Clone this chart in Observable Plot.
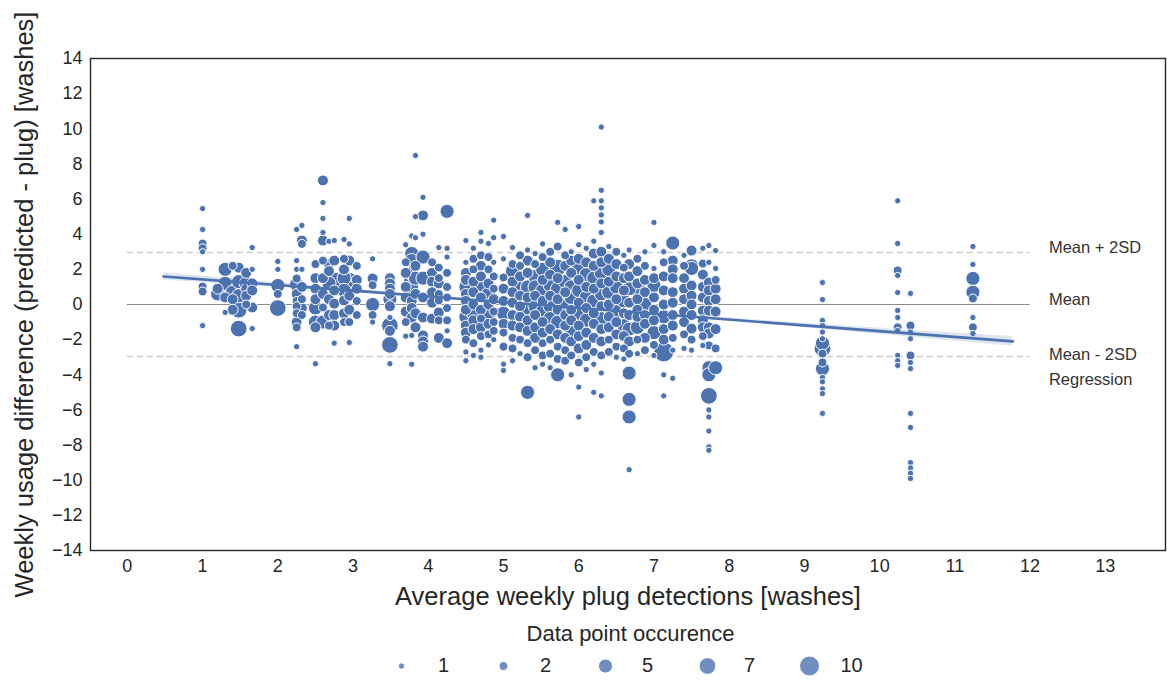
<!DOCTYPE html>
<html>
<head>
<meta charset="utf-8">
<script src="https://cdn.jsdelivr.net/npm/d3@7"></script>
<script src="https://cdn.jsdelivr.net/npm/@observablehq/plot@0.6"></script>
<style>
  html, body { margin: 0; padding: 0; background: #fff; }
  body { width: 1167px; height: 681px; overflow: hidden; font-family: "Liberation Sans", Arial, sans-serif; }
  #legend-title { height: 28px; line-height: 28px; text-align: center; font-size: 22px; color: #262626; margin-top: 8px; padding-left: 94px; }
</style>
</head>
<body>
<div id="chart"></div>
<div id="legend-title">Data point occurence</div>
<div id="legend"></div>
<script>
// x position of each column of points (average weekly plug detections)
const detections = [
  1.0, 1.2, 1.3, 1.4, 1.48, 1.58, 1.66, 2.0, 2.25, 2.32, 2.5, 2.6, 2.68, 2.75, 2.88, 2.95,
  3.05, 3.26, 3.49, 3.7, 3.78, 3.83, 3.93, 4.05, 4.14, 4.25,
  4.5, 4.6, 4.7, 4.8, 4.87, 5.0, 5.12, 5.22, 5.32, 5.42, 5.52, 5.62, 5.72, 5.82, 5.9,
  6.0, 6.1, 6.2, 6.3, 6.4, 6.5, 6.6, 6.67, 6.78, 6.88, 7.0, 7.13, 7.25, 7.4, 7.5, 7.65, 7.73, 7.82,
  9.24, 10.24, 10.41, 11.24
];
// weekly usage difference values per column
const differences = [
  [5.46, 4.27, 3.47, 3.2, 3.0, 2.0, 1.02, 0.74, -1.2],
  [0.9, 0.6],
  [2.0, 1.2, 0.8, 0.4, -0.45],
  [2.2, 1.0, 0.7, 0.3, -0.3],
  [2.1, 1.3, 0.9, 0.5, -0.3, -1.37],
  [1.8, 1.2, 0.9, 0.5, 0.0],
  [3.24, 2.0, 1.2, 0.8, -0.17, -1.37],
  [2.45, 2.0, 1.08, 0.6, -0.2],
  [4.27, 2.5, 2.0, 1.48, 1.14, 0.6, 0.2, -0.1, -0.5, -1.0, -1.3, -2.4],
  [4.5, 3.64, 3.45, 2.0, 1.0, 0.3, -0.2, -0.6],
  [2.3, 1.5, 0.9, 0.3, -0.2, -1.0, -1.3, -3.37],
  [7.06, 5.8, 4.9, 4.1, 3.64, 2.5, 1.5, 0.6, -0.17, -1.0],
  [3.6, 2.3, 1.9, 1.2, 0.3, -0.6, -1.2],
  [3.64, 2.5, 1.37, 0.8, 0.05, -0.6, -1.2, -2.2],
  [3.7, 2.6, 2.0, 1.5, 0.8, 0.23, -0.5, -1.0],
  [4.9, 3.45, 2.5, 1.25, 0.5, -0.3, -1.0, -2.16],
  [2.2, 1.4, 0.9, 0.2, -0.6],
  [2.6, 1.48, 1.1, 0.0, -0.6, -1.0],
  [1.5, 1.2, 0.9, 0.6, 0.3, -0.1, -0.74, -1.2, -1.5, -2.3, -3.37],
  [3.4, 2.4, 1.8, 1.0, 0.4, -0.4, -1.0, -1.8],
  [3.9, 2.9, 2.5, 1.76, 1.3, 1.0, 0.2, -0.2, -0.74, -1.76, -3.4],
  [8.48, 5.0, 3.8, 2.2, 1.5, 0.6, -0.5, -1.3],
  [6.1, 5.07, 4.0, 2.7, 1.5, 0.4, -0.74, -1.76, -2.1, -2.4],
  [2.4, 1.8, 1.3, 0.7, 0.1, -0.8],
  [3.24, 2.1, 1.5, 1.2, 0.6, 0.23, -0.45, -0.9, -1.9],
  [5.3, 3.2, 2.7, 1.8, 1.0, 0.4, -0.2, -0.9, -1.5, -2.2],
  [3.64, 2.4, 1.8, 1.4, 1.0, 0.6, 0.2, -0.3, -0.7, -1.2, -1.6, -2.0, -2.7, -3.2],
  [3.2, 2.6, 2.0, 1.3, 0.7, 0.0, -0.5, -0.9, -1.4, -2.2, -2.9],
  [4.1, 3.6, 2.8, 2.2, 1.6, 1.1, 0.4, -0.3, -0.8, -1.3, -1.8, -2.6, -3.0],
  [3.47, 2.7, 2.0, 1.2, 0.6, 0.0, -0.6, -1.1, -1.7, -2.3],
  [4.8, 3.8, 2.4, 1.6, 0.9, 0.3, -0.4, -1.0, -1.5, -2.0],
  [3.87, 2.6, 1.54, 0.9, 0.2, -0.5, -1.1, -1.6, -2.4, -3.4, -3.75],
  [3.24, 2.3, 1.9, 1.3, 0.7, 0.1, -0.6, -1.2, -1.9, -2.5, -3.2],
  [2.8, 2.2, 1.6, 1.0, 0.5, -0.1, -0.7, -1.3, -2.0, -2.8],
  [5.07, 3.1, 2.5, 1.8, 1.0, 0.4, -0.2, -0.9, -1.5, -2.2, -3.0, -5.0],
  [2.9, 2.3, 1.6, 1.0, 0.5, -0.1, -0.6, -1.3, -1.9, -2.6, -3.6],
  [3.45, 2.7, 2.0, 1.4, 0.8, 0.2, -0.4, -1.0, -1.6, -2.2, -2.9, -3.4],
  [3.0, 2.4, 1.7, 1.1, 0.5, -0.1, -0.8, -1.4, -2.0, -2.8, -3.6],
  [4.67, 3.3, 2.1, 1.5, 0.9, 0.3, -0.3, -1.0, -1.7, -2.4, -3.1, -4.0],
  [4.27, 2.8, 2.2, 1.3, 0.7, 0.0, -0.6, -1.2, -1.9, -2.6, -3.2],
  [3.0, 2.5, 1.8, 1.0, 0.4, -0.3, -0.9, -1.5, -2.1, -2.9, -4.0],
  [4.44, 3.4, 2.6, 2.0, 1.4, 0.8, 0.1, -0.5, -1.2, -1.8, -2.5, -3.3, -4.7, -6.4],
  [3.2, 2.4, 1.7, 1.0, 0.4, -0.2, -0.9, -1.6, -2.3, -3.0, -3.7],
  [5.9, 3.6, 2.9, 2.2, 1.5, 0.9, 0.2, -0.5, -1.1, -1.9, -2.7, -3.4, -5.0],
  [10.1, 6.5, 5.9, 5.5, 5.1, 4.7, 4.1, 3.0, 2.4, 1.8, 1.2, 0.6, -0.1, -0.8, -1.4, -2.1, -2.9, -3.9, -5.2],
  [3.3, 2.6, 2.0, 1.3, 0.7, 0.0, -0.7, -1.3, -2.0, -2.7],
  [3.0, 2.3, 1.6, 1.0, 0.3, -0.4, -1.0, -1.7, -2.4, -3.0],
  [2.8, 2.1, 1.5, 0.8, 0.2, -0.5, -1.2, -1.8, -2.5, -3.1],
  [3.1, 2.3, 1.6, 0.9, 0.1, -0.6, -1.4, -2.1, -2.8, -3.9, -5.4, -6.4, -9.4],
  [2.6, 1.9, 1.2, 0.9, 0.3, -0.3, -0.7, -1.3, -2.0, -2.8],
  [3.0, 2.2, 1.4, 0.7, 0.0, -0.6, -1.1, -1.9, -2.6],
  [4.67, 3.36, 2.05, 1.5, 1.08, 0.4, -0.3, -0.9, -1.6, -2.3, -2.9],
  [3.0, 2.4, 1.6, 0.8, 0.0, -0.7, -1.4, -2.0, -2.7, -4.0, -5.2],
  [3.5, 2.5, 2.0, 1.5, 0.7, 0.1, -0.6, -1.2, -1.9, -2.6, -4.2],
  [2.8, 2.2, 1.5, 0.9, 0.3, -0.4, -1.0, -1.7, -2.5],
  [3.07, 2.2, 2.05, 1.08, 0.5, 0.0, -0.6, -1.37, -2.0, -2.6],
  [3.2, 2.33, 1.7, 1.0, 0.4, -0.35, -0.9, -1.3, -1.8, -2.33],
  [3.36, 2.4, 1.25, 0.8, 0.2, -0.35, -1.3, -1.65, -2.33, -3.6, -4.0, -5.2, -6.0, -6.4, -7.2, -8.1, -8.3],
  [3.07, 2.05, 1.4, 0.9, 0.3, -0.4, -1.4, -2.5, -3.6],
  [1.25, 0.28, -0.91, -1.2, -1.57, -1.95, -2.2, -2.5, -2.8, -3.3, -3.65, -4.15, -4.4, -4.8, -5.07, -6.2],
  [5.9, 3.47, 1.94, 1.65, 0.68, -0.34, -0.74, -1.3, -1.48, -2.9, -3.2, -3.47],
  [0.63, -1.2, -1.57, -1.95, -2.9, -3.3, -3.65, -6.2, -7.0, -9.0, -9.3, -9.6, -9.9],
  [3.3, 2.28, 1.48, 0.7, 0.34, -0.74, -1.3, -1.65]
];
// how many times each data point occurs
const occurrences = [
  [1, 1, 2, 2, 1, 1, 2, 2, 1],
  [3, 5],
  [5, 5, 7, 3, 1],
  [2, 7, 5, 3, 3],
  [3, 5, 7, 5, 7, 7],
  [3, 5, 3, 3, 2],
  [1, 1, 3, 3, 3, 1],
  [1, 1, 5, 2, 7],
  [1, 1, 1, 2, 5, 3, 2, 2, 2, 3, 2, 1],
  [1, 3, 2, 1, 3, 2, 3, 2],
  [2, 3, 3, 3, 5, 5, 3, 1],
  [3, 1, 1, 1, 3, 2, 3, 3, 2, 5],
  [1, 3, 3, 5, 3, 3, 2],
  [1, 3, 7, 3, 3, 3, 3, 1],
  [1, 2, 3, 5, 5, 3, 3, 2],
  [1, 1, 3, 10, 3, 3, 2, 1],
  [2, 3, 3, 2, 2],
  [1, 3, 2, 5, 2, 1],
  [3, 3, 3, 3, 5, 3, 1, 7, 3, 7, 1],
  [1, 2, 3, 3, 3, 3, 2, 1],
  [1, 5, 5, 5, 7, 5, 3, 3, 3, 1, 1],
  [1, 1, 1, 3, 5, 3, 3, 3],
  [1, 3, 1, 5, 5, 3, 3, 3, 3, 3],
  [2, 3, 3, 3, 3, 3],
  [1, 2, 2, 3, 2, 2, 3, 2, 3],
  [5, 1, 1, 2, 2, 2, 2, 2, 1, 3],
  [1, 1, 3, 3, 5, 3, 3, 3, 5, 3, 3, 2, 1, 1],
  [1, 2, 2, 3, 3, 3, 5, 3, 3, 2, 1],
  [1, 1, 2, 3, 3, 5, 3, 3, 2, 3, 2, 1, 1],
  [1, 2, 2, 3, 5, 3, 5, 3, 2, 1],
  [1, 1, 1, 2, 2, 3, 2, 2, 2, 1],
  [1, 1, 2, 3, 3, 5, 3, 2, 2, 1, 1],
  [1, 2, 5, 3, 3, 3, 3, 3, 2, 2, 1],
  [2, 2, 3, 5, 3, 3, 3, 3, 2, 1],
  [1, 1, 3, 3, 5, 3, 5, 3, 3, 2, 2, 5],
  [1, 2, 5, 5, 3, 5, 3, 3, 3, 2, 1],
  [1, 2, 5, 3, 5, 3, 5, 3, 3, 2, 2, 1],
  [2, 3, 3, 5, 3, 5, 5, 3, 2, 2, 1],
  [1, 2, 7, 3, 5, 3, 3, 5, 3, 2, 2, 5],
  [1, 2, 3, 5, 3, 5, 3, 3, 3, 2, 2],
  [1, 3, 3, 5, 5, 3, 3, 5, 3, 2, 1],
  [1, 1, 3, 5, 3, 5, 3, 5, 3, 3, 3, 2, 1, 1],
  [1, 3, 5, 3, 5, 3, 5, 3, 3, 2, 1],
  [1, 1, 3, 3, 5, 3, 5, 3, 3, 3, 2, 1, 1],
  [1, 1, 1, 1, 1, 1, 1, 3, 3, 5, 3, 5, 3, 5, 3, 3, 2, 1, 1],
  [1, 3, 5, 3, 5, 3, 3, 3, 2, 2],
  [2, 3, 3, 5, 3, 5, 3, 3, 2, 1],
  [1, 2, 3, 3, 5, 3, 5, 3, 2, 1],
  [1, 3, 3, 5, 3, 3, 5, 3, 2, 5, 5, 5, 1],
  [2, 3, 3, 7, 3, 3, 3, 5, 2, 1],
  [1, 2, 3, 3, 5, 3, 3, 3, 2],
  [1, 1, 1, 3, 5, 3, 3, 3, 5, 2, 1],
  [1, 2, 3, 3, 3, 5, 3, 3, 10, 1, 1],
  [5, 3, 3, 3, 3, 3, 3, 3, 2, 1, 1],
  [1, 2, 3, 3, 3, 3, 3, 2, 1],
  [3, 5, 5, 3, 3, 3, 3, 3, 2, 1],
  [1, 2, 3, 3, 3, 3, 3, 3, 2, 1],
  [1, 1, 3, 3, 3, 3, 3, 3, 2, 5, 5, 7, 1, 1, 1, 1, 1],
  [1, 1, 2, 3, 3, 3, 3, 2, 5],
  [1, 1, 1, 1, 1, 1, 5, 7, 2, 2, 5, 1, 1, 1, 1, 1],
  [1, 1, 2, 1, 1, 1, 1, 2, 1, 1, 1, 1],
  [1, 2, 1, 1, 2, 1, 1, 1, 1, 1, 1, 1, 1],
  [1, 1, 5, 5, 2, 1, 2, 1]
];

// reference lines (mean ± 2SD dashed, mean solid)
const sdLimits = [2.96, -2.96];
const meanValue = [0];
// annotation labels and their vertical positions
const annotationLabels = ["Mean + 2SD", "Mean", "Mean - 2SD", "Regression"];
const annotationY = [3.22, 0.27, -2.85, -4.3];
// regression fit and confidence band
const regressionX = [0.48, 3, 6, 9, 11.77];
const regressionY = [1.59, 0.79, -0.2, -1.19, -2.1];
const regressionLow = [1.38, 0.70, -0.26, -1.32, -2.38];
const regressionHigh = [1.80, 0.88, -0.14, -1.06, -1.82];
// legend
const legendValues = [1, 2, 5, 7, 10];

const points = detections.flatMap((x, i) =>
  differences[i].map((y, j) => ({x, y, n: occurrences[i][j]}))
);
const regression = regressionX.map((x, i) => ({x, y: regressionY[i], lo: regressionLow[i], hi: regressionHigh[i]}));

const blue = "#4c72b0";
const rScale = {type: "sqrt", domain: [0, 10], range: [0, 10]};
const font = "'Liberation Sans', Arial, sans-serif";

const chart = Plot.plot({
  width: 1167,
  height: 612,
  marginLeft: 90,
  marginRight: 2,
  marginTop: 58,
  marginBottom: 62,
  style: {fontFamily: font, fontSize: "18px", color: "#262626", background: "white"},
  x: {domain: [-0.49, 13.8], ticks: d3.range(0, 14), tickSize: 0, tickPadding: 9,
      label: "Average weekly plug detections [washes]", labelAnchor: "center", labelArrow: "none", labelOffset: 54},
  y: {domain: [-14, 14], ticks: d3.range(-14, 15, 2), tickSize: 0, tickPadding: 8,
      label: "Weekly usage difference (predicted - plug) [washes]", labelAnchor: "center", labelArrow: "none", labelOffset: 76},
  r: rScale,
  marks: [
    Plot.ruleY(sdLimits, {y: d => d, x1: 0, x2: 12, stroke: "#cccccc", strokeWidth: 1.4, strokeDasharray: "6,4"}),
    Plot.ruleY(meanValue, {y: d => d, x1: 0, x2: 12, stroke: "#8c8c8c", strokeWidth: 1.2}),
    Plot.dot(points, {x: "x", y: "y", r: "n", fill: blue, stroke: "white", strokeWidth: 1}),
    Plot.areaY(regression, {x: "x", y1: "lo", y2: "hi", fill: blue, fillOpacity: 0.18, curve: "natural"}),
    Plot.line(regression, {x: "x", y: "y", stroke: blue, strokeWidth: 2.6}),
    Plot.text(annotationLabels, {x: 12.25, y: (d, i) => annotationY[i], text: d => d, textAnchor: "start",
      fontSize: 16.5, fill: "#333"}),
    Plot.frame({stroke: "#262626", strokeWidth: 1.4})
  ]
});
chart.querySelectorAll("[aria-label='x-axis label'] text, [aria-label='y-axis label'] text").forEach(t => t.setAttribute("font-size", "25.5px"));
document.getElementById("chart").appendChild(chart);

const legend = Plot.plot({
  width: 1167,
  height: 35,
  margin: 0,
  style: {fontFamily: font, fontSize: "20px", color: "#262626", background: "white", overflow: "visible"},
  x: {type: "point", domain: legendValues, range: [400, 810], padding: 0, axis: null},
  r: rScale,
  marks: [
    Plot.dot(legendValues, {x: d => d, r: d => d, frameAnchor: "middle", fill: blue, fillOpacity: 0.8, stroke: "white", strokeWidth: 1}),
    Plot.text(legendValues, {x: d => d, dx: 42, frameAnchor: "middle", text: d => String(d), fontSize: 20, fill: "#262626"})
  ]
});
document.getElementById("legend").appendChild(legend);
</script>
</body>
</html>
